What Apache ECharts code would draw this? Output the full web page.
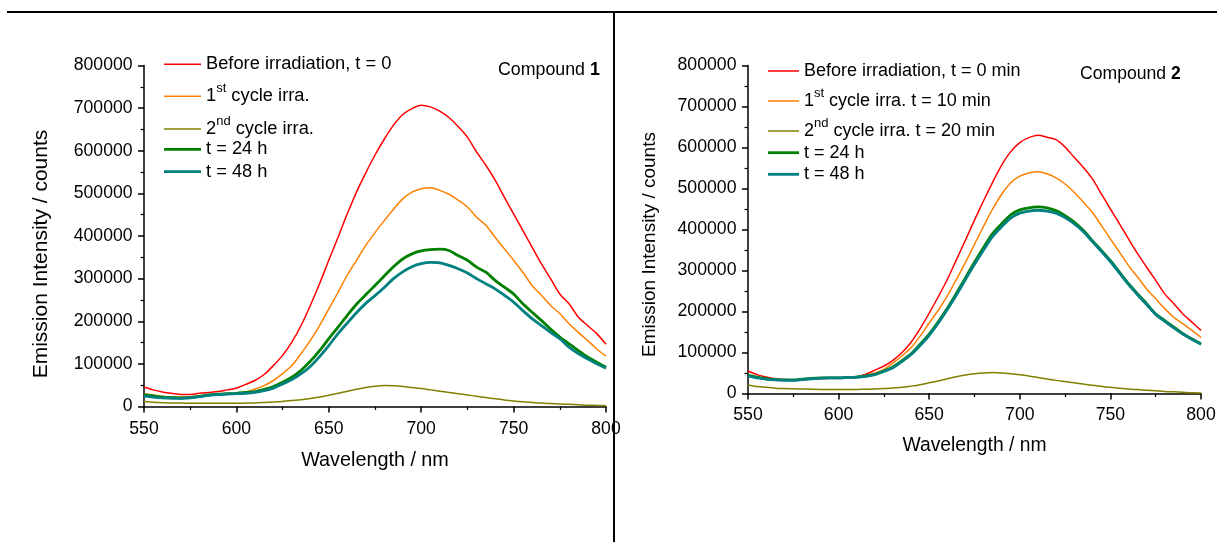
<!DOCTYPE html>
<html>
<head>
<meta charset="utf-8">
<script src="https://cdn.jsdelivr.net/npm/echarts@6/dist/echarts.min.js"></script>
<style>html,body{margin:0;padding:0;background:#fff}#c{width:1217px;height:542px}</style>
</head>
<body>
<div id="c"></div>
<script>
// Wavelength grid (nm)
const wavelengths = [550,555,560,565,570,575,580,585,590,595,600,605,610,615,620,625,630,635,640,645,650,655,660,665,670,675,680,685,690,695,700,705,710,715,720,725,730,735,740,745,750,755,760,765,770,775,780,785,790,795,800];

// Emission intensity values, in thousands of counts
// Compound 1
const c1Before = [45,39,34,31,28,28,31,33,35,39,43,52,61,75,96,120,151,190,237,288,343,397,452,503,548,590,627,660,685,699,707,703,693,678,657,632,597,566,531,491,452,413,374,335,300,264,241,210,190,171,146];
const c1Cycle1 = [30,27,24,22,22,23,25,27,28,29,30,34,41,49,61,77,96,124,155,190,229,268,308,343,378,408,436,463,487,503,511,513,507,498,484,468,444,425,397,370,343,315,284,261,237,218,194,174,155,135,118];
const c1Cycle2 = [12,10,9,8,8,7.5,7.5,7.5,7.5,7.5,7.5,8,8.5,9.5,10.5,12,14,16,19,22.5,26.5,31,36,40.5,44.5,47.5,49,48.5,47,44.5,42,39,36,33,30,27,24,21,18,15.5,13,11,9.5,8,7,6,5,4,3,2.5,2];
const c1T24 = [28,25,22,21,20,21,24,27,29,30,31,33,35,40,47,57,69,85,106,131,159,186,214,240,262,284,306,328,346,358,365,368,369,366,354,343,327,315,296,280,264,241,221,202,182,163,147,131,116,104,92];
const c1T48 = [25,22,20,19,19,20,23,26,28,29,30,31,33,37,43,53,63,77,94,117,143,171,196,220,242,260,279,300,316,328,335,338,337,331,323,313,300,288,276,261,245,225,206,190,174,159,139,124,112,100,90];
// Compound 2
const c2Before = [55,46,40,36,34,33,35,36,37,37,37,38,41,47,57,67,81,100,125,158,196,236,278,326,374,423,470,515,557,590,612,624,630,625,619,601,576,552,524,487,450,414,377,341,308,276,243,219,194,174,154];
const c2Cycle1 = [45,39,36,34,33,33,34,35,36,37,37,38,40,44,50,59,74,92,112,140,172,203,238,278,320,364,408,450,486,514,530,538,541,536,526,511,491,467,442,410,377,345,312,284,255,231,207,186,170,154,137];
const c2Cycle2 = [21,17,15,13,12,11.5,11,10.5,10,10,10,10,10,10.5,11,12,13.5,15,18,21.5,26,30.5,36,41,45,48,50,51,50,48,45.5,42.5,39,35.5,32,29,26,23,20,17.5,15,13,11,9.5,8,6.5,5,4,3,2,1.5];
const c2T24 = [45,40,36,34,33,33,35,37,38,38,38,39,40,43,47,55,65,80,97,120,145,175,208,244,282,320,356,390,414,436,448,453,455,453,446,434,418,398,373,349,324,296,268,243,219,194,178,162,146,133,121];
const c2T48 = [43,38,35,33,32,32,34,36,37,38,38,39,40,42,46,54,63,78,95,117,142,172,205,240,278,315,350,383,407,428,440,445,447,445,440,429,414,395,371,347,322,294,266,241,217,193,176,160,145,132,120];

// Series names (legend labels)
const namesC1 = ['Before irradiation, t = 0','1st cycle irra.','2nd cycle irra.','t = 24 h','t = 48 h'];
const namesC2 = ['Before irradiation, t = 0 min','1st cycle irra. t = 10 min','2nd cycle irra. t = 20 min','t = 24 h','t = 48 h'];
const colors = ['#FF0000','#FF8000','#808000','#008000','#008080'];
const widths = [1.5,1.5,1.5,2.8,2.8];
const compoundLabels = ['1','2'];

const FONT = "'Liberation Sans', Arial, sans-serif";
const UNIT = 1000;

// per-panel text sizes
const tickFont = [17.6, 17.7];
const xNameFont = [19.8, 19.3];
const yNameFont = [21, 19];
const legendFont = [18.3, 18];

function pairs(vals){ return wavelengths.map((w,i)=>[w, vals[i]*UNIT]); }

function xAxis(g, nameGap, margin){
  return {
    type:'value', gridIndex:g, min:550, max:800, interval:50,
    name:'Wavelength / nm', nameLocation:'middle', nameGap,
    nameTextStyle:{fontSize:xNameFont[g], color:'#000', fontFamily:FONT},
    axisLine:{show:true, onZero:false, lineStyle:{color:'#000', width:1.5}},
    axisTick:{show:true, inside:false, length:6, lineStyle:{color:'#000', width:1.5}},
    minorTick:{show:true, splitNumber:2, length:3.5, lineStyle:{color:'#000', width:1.2}},
    axisLabel:{fontSize:tickFont[g], color:'#000', fontFamily:FONT, margin, formatter:v=>String(v)},
    splitLine:{show:false}, minorSplitLine:{show:false}
  };
}
function yAxis(g, nameGap, shift){
  return {
    type:'value', gridIndex:g, min:0, max:800000, interval:100000,
    name:'Emission Intensity / counts', nameLocation:'middle', nameGap, nameRotate:90,
    nameTextStyle:{fontSize:yNameFont[g], color:'#000', fontFamily:FONT, padding:[0, 2*shift, 0, 0]},
    axisLine:{show:true, onZero:false, lineStyle:{color:'#000', width:1.5}},
    axisTick:{show:true, inside:false, length:6, lineStyle:{color:'#000', width:1.5}},
    minorTick:{show:true, splitNumber:2, length:3.5, lineStyle:{color:'#000', width:1.2}},
    axisLabel:{fontSize:tickFont[g], color:'#000', fontFamily:FONT, margin:11.5, formatter:v=>String(v)},
    splitLine:{show:false}, minorSplitLine:{show:false}
  };
}

const seriesData = [
  [c1Before,c1Cycle1,c1Cycle2,c1T24,c1T48],
  [c2Before,c2Cycle1,c2Cycle2,c2T24,c2T48]
];
const names = [namesC1, namesC2];
const series = [];
for (let g=0; g<2; g++){
  for (let k=0;k<5;k++){
    series.push({
      type:'line', name:names[g][k], xAxisIndex:g, yAxisIndex:g,
      data:pairs(seriesData[g][k]), showSymbol:false, symbol:'none', smooth:0.3,
      lineStyle:{color:colors[k], width:widths[k]}, itemStyle:{color:colors[k]},
      z: 2+k, animation:false
    });
  }
}

const SUP_FONT = 13, SUP_PAD = 16;
function richName(n){
  const m = n.match(/^(\d)(st|nd)(.*)$/);
  if (m) return '{n|'+m[1]+'}{s|'+m[2]+'}{n|'+m[3]+'}';
  return '{n|'+n+'}';
}
function hasSup(n){ return /^(\d)(st|nd)/.test(n); }
const legendY = [[64.3,96.3,129,149.5,171.7],[71,101,131,152.7,174.3]];
const legendX = [164,768];
const legendW = [37,31];
const legends = [];
for (let g=0; g<2; g++){
  const rich = {
    n:{fontSize:legendFont[g], fontFamily:FONT, color:'#000'},
    s:{fontSize:SUP_FONT, fontFamily:FONT, color:'#000', padding:[0,0,SUP_PAD,0]}
  };
  for (let k=0;k<5;k++){
    const nm = names[g][k];
    const off = hasSup(nm) ? (SUP_FONT+SUP_PAD)/2 : legendFont[g]/2;
    legends.push({
      data:[nm], left:legendX[g], top:legendY[g][k]-off, padding:0,
      icon:'rect', itemWidth:legendW[g], itemHeight:widths[k],
      itemStyle:{borderWidth:0}, selectedMode:false,
      formatter:richName, textStyle:{rich}
    });
  }
}

function compoundTitle(g, left, top, size){
  return {text:'{a|Compound }{b|'+compoundLabels[g]+'}', left, top, padding:0,
    textStyle:{fontWeight:'normal', rich:{
      a:{fontSize:size,lineHeight:22,fontFamily:FONT,color:'#000',fontWeight:'normal'},
      b:{fontSize:size,lineHeight:22,fontFamily:FONT,color:'#000',fontWeight:'bold'}}}};
}

const option = {
  backgroundColor:'#fff',
  animation:false,
  grid:[
    {left:144, right:611, top:65.5, bottom:135.5, outerBoundsMode:'none', containLabel:false},
    {left:748, right:16, top:65.5, bottom:148.5, outerBoundsMode:'none', containLabel:false}
  ],
  xAxis:[xAxis(0,44,14), xAxis(1,43,12.5)],
  yAxis:[yAxis(0,92,18), yAxis(1,89,15)],
  title:[ compoundTitle(0, 498, 59.5, 17.8), compoundTitle(1, 1080, 63.5, 17.6) ],
  legend:legends,
  series,
  graphic:[
    {type:'line', z:100, shape:{x1:7,y1:12,x2:1217,y2:12}, style:{stroke:'#000', lineWidth:2}},
    {type:'line', z:100, shape:{x1:614,y1:12,x2:614,y2:542}, style:{stroke:'#000', lineWidth:2}}
  ]
};
const chart = echarts.init(document.getElementById('c'), null, {renderer:'canvas'});
chart.setOption(option);
</script>
</body>
</html>
